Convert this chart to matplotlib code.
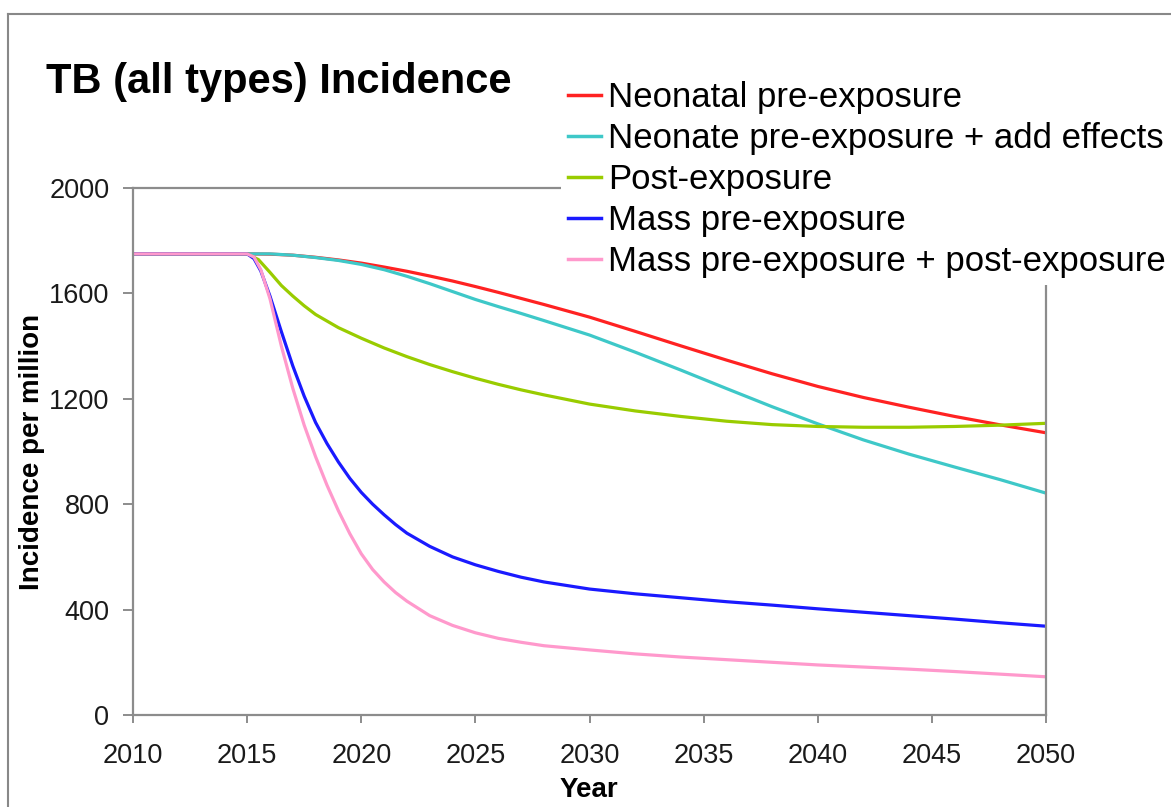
import matplotlib
matplotlib.use("Agg")
import matplotlib.pyplot as plt
from matplotlib.lines import Line2D

plt.rcParams['font.family'] = ['Liberation Sans', 'DejaVu Sans']

# values (incidence per million)
neonatal_years = [2010, 2015, 2016, 2017, 2018, 2019, 2020, 2021, 2022, 2023, 2024, 2025,
                  2026, 2027, 2028, 2030, 2032, 2034, 2036, 2038, 2040, 2042, 2044,
                  2046, 2048, 2050]
neonatal_vals = [1750, 1750, 1749, 1745, 1737, 1727, 1715, 1700, 1684, 1666, 1647, 1626,
                 1604, 1581, 1558, 1510, 1456, 1401, 1347, 1295, 1247, 1205, 1168,
                 1133, 1101, 1071]

neonate_add_years = [2010, 2015, 2016, 2017, 2018, 2019, 2020, 2021, 2022, 2023, 2024, 2025,
                     2026, 2027, 2028, 2030, 2032, 2034, 2036, 2038, 2040, 2042, 2044,
                     2046, 2048, 2050]
neonate_add_vals = [1750, 1750, 1750, 1745, 1736, 1725, 1710, 1690, 1665, 1637, 1607, 1577,
                    1550, 1524, 1497, 1442, 1377, 1309, 1239, 1170, 1105, 1044, 990,
                    941, 893, 842]

post_years = [2010, 2015, 2015.5, 2016, 2016.5, 2017, 2017.5, 2018, 2019, 2020, 2021, 2022,
              2023, 2024, 2025, 2026, 2027, 2028, 2030, 2032, 2034, 2036, 2038, 2040,
              2042, 2044, 2046, 2048, 2050]
post_vals = [1750, 1750, 1728, 1680, 1630, 1590, 1553, 1520, 1470, 1430, 1393, 1360,
             1330, 1303, 1278, 1255, 1234, 1215, 1180, 1154, 1133, 1115, 1102, 1095,
             1092, 1092, 1095, 1100, 1107]

mass_years = [2010, 2015, 2015.3, 2015.6, 2016, 2016.5, 2017, 2017.5, 2018, 2018.5, 2019,
              2019.5, 2020, 2020.5, 2021, 2021.5, 2022, 2023, 2024, 2025, 2026, 2027,
              2028, 2030, 2032, 2034, 2036, 2038, 2040, 2042, 2044, 2046, 2048, 2050]
mass_vals = [1750, 1750, 1732, 1685, 1590, 1455, 1325, 1210, 1110, 1030, 960,
             898, 845, 800, 760, 723, 690, 640, 600, 570, 545, 523,
             505, 478, 460, 445, 430, 417, 403, 390, 377, 364, 350, 337]

mass_post_years = [2010, 2015, 2015.3, 2015.6, 2016, 2016.5, 2017, 2017.5, 2018, 2018.5,
                   2019, 2019.5, 2020, 2020.5, 2021, 2021.5, 2022, 2023, 2024, 2025,
                   2026, 2027, 2028, 2030, 2032, 2034, 2036, 2038, 2040, 2042, 2044,
                   2046, 2048, 2050]
mass_post_vals = [1750, 1750, 1738, 1690, 1580, 1400, 1240, 1100, 980, 872,
                  775, 688, 612, 552, 505, 465, 432, 377, 340, 312,
                  291, 276, 263, 247, 232, 220, 210, 200, 190, 182, 174,
                  165, 155, 145]

series_labels = ["Neonatal pre-exposure", "Neonate pre-exposure + add effects",
                 "Post-exposure", "Mass pre-exposure", "Mass pre-exposure + post-exposure"]
series_colors = ["#ff2222", "#3ec8c8", "#99cc00", "#1a1aff", "#ff99cc"]

x_ticks = [2010, 2015, 2020, 2025, 2030, 2035, 2040, 2045, 2050]
y_ticks = [0, 400, 800, 1200, 1600, 2000]

fig = plt.figure(figsize=(11.71, 8.07), dpi=100)
ax = fig.add_axes([133 / 1171, 92 / 807, 913 / 1171, 527 / 807])

data = [(neonatal_years, neonatal_vals), (neonate_add_years, neonate_add_vals),
        (post_years, post_vals), (mass_years, mass_vals),
        (mass_post_years, mass_post_vals)]
for (xs, ys), lab, col in zip(data, series_labels, series_colors):
    ax.plot(xs, ys, color=col, lw=2.3, label=lab, solid_joinstyle='round')

ax.set_xlim(2010, 2050)
ax.set_ylim(0, 2000)
ax.set_xticks(x_ticks)
ax.set_yticks(y_ticks)
for s in ax.spines.values():
    s.set_color('#8c8c8c')
    s.set_linewidth(1.6)
ax.tick_params(axis='both', direction='out', color='#8c8c8c', width=1.4,
               labelsize=19.5, labelcolor='#1a1a1a')
ax.tick_params(axis='x', length=6, pad=14)
ax.tick_params(axis='y', length=7, pad=10)

fig.text(46 / 1171, 1 - 93 / 807, "TB (all types) Incidence", fontsize=30,
         fontweight='bold', color='black', va='baseline', ha='left')
fig.text(32 / 1171, 1 - 452 / 807, "Incidence per million", fontsize=20,
         fontweight='bold', rotation=90, ha='center', va='center')
fig.text(589 / 1171, 1 - 790 / 807, "Year", fontsize=20, fontweight='bold',
         ha='center', va='center')

leg = fig.legend(loc='upper left', bbox_to_anchor=(561 / 1171, 1 - 74 / 807),
                 fontsize=25, frameon=True, facecolor='white', edgecolor='none',
                 framealpha=1, fancybox=False, borderpad=0.2, borderaxespad=0,
                 handlelength=0.95, handletextpad=0.2, labelspacing=0.23)
for h in leg.get_lines():
    h.set_linewidth(2.5)

# outer frame of the chart
fig.add_artist(Line2D([8 / 1171, 8 / 1171], [0, 1 - 14 / 807], color='#888888', lw=1.5))
fig.add_artist(Line2D([8 / 1171, 1], [1 - 14 / 807, 1 - 14 / 807], color='#888888', lw=1.5))

fig.savefig("out.png", dpi=100)
